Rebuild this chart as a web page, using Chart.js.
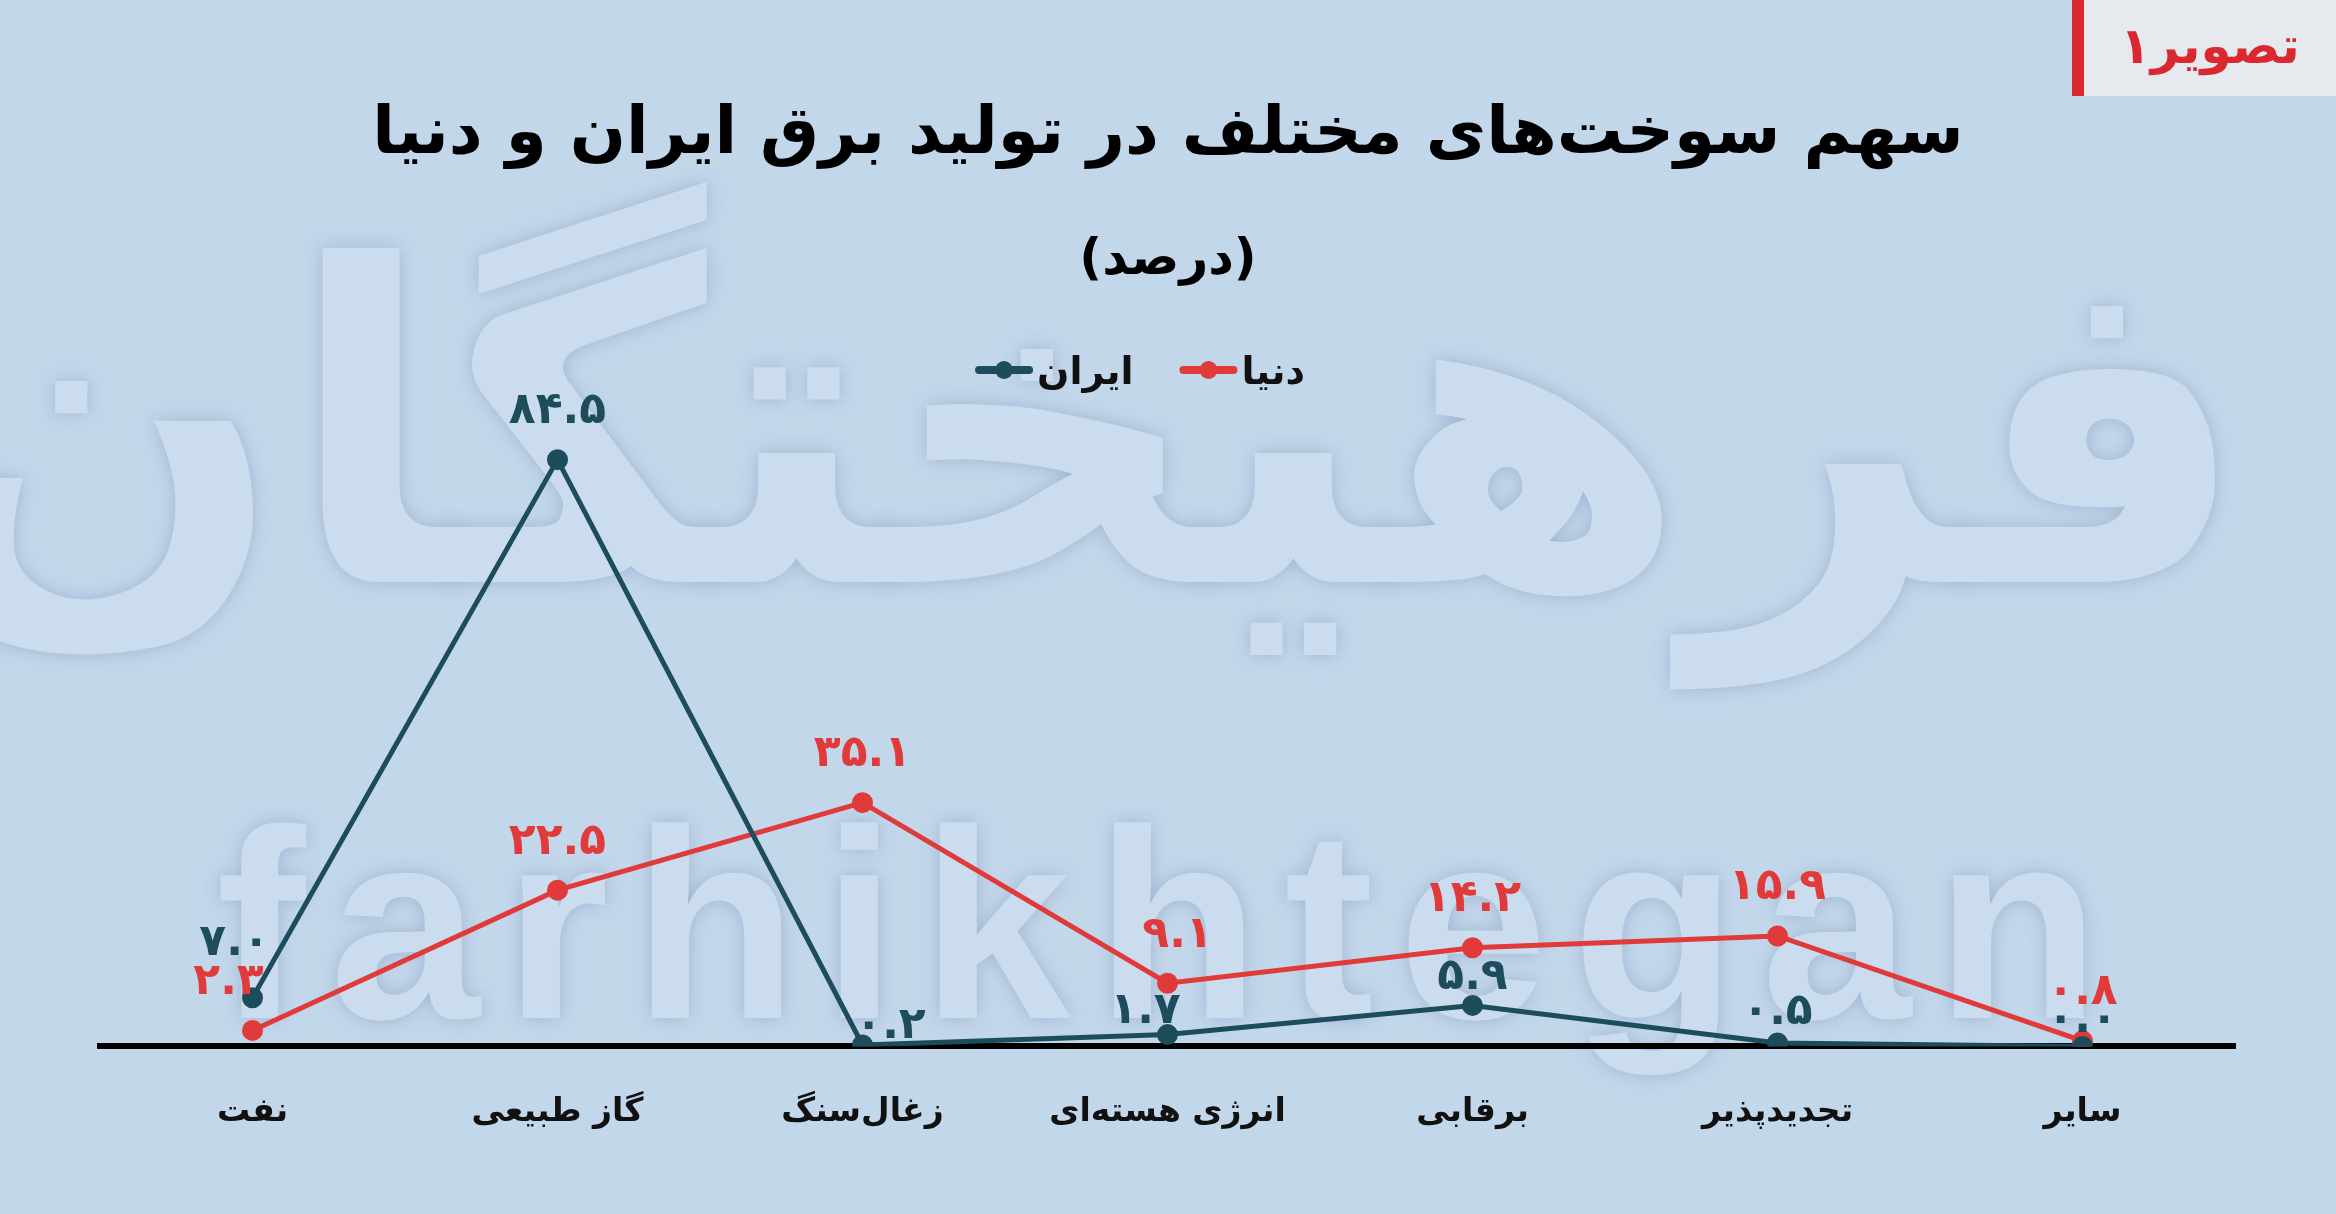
<!DOCTYPE html>
<html><head><meta charset="utf-8">
<script src="https://cdn.jsdelivr.net/npm/chart.js@4"></script>
<style>
body{margin:0;width:2336px;height:1214px;background:#c3d7eb;overflow:hidden;position:relative;font-family:"DejaVu Sans",sans-serif}
.wm{position:absolute;color:#cadcee;text-shadow:0 0 18px rgba(90,120,160,0.35);font-weight:bold;white-space:nowrap}
#t{position:absolute;left:0;width:2336px;top:92px;text-align:center;font-size:66px;font-weight:bold;direction:rtl}
#s{position:absolute;left:0;width:2336px;top:228px;text-align:center;font-size:50px;font-weight:bold;direction:rtl}
#tag{position:absolute;right:0;top:0;width:252px;height:96px;background:#e6e9ee;border-left:12px solid #d9282f;color:#d9282f;font-size:50px;font-weight:bold;text-align:center;line-height:92px;direction:rtl}
canvas{position:absolute;left:0;top:0}
</style></head><body>
<div class="wm" style="left:90px;width:2160px;text-align:center;top:130px;font-size:440px;line-height:600px;direction:rtl">فرهیختگان</div>
<div class="wm" style="left:70px;width:2200px;text-align:center;top:790px;font-size:270px;letter-spacing:24px;line-height:270px;font-family:'Liberation Sans'">farhikhtegan</div>
<div id="t">سهم سوخت‌های مختلف در تولید برق ایران و دنیا</div>
<div id="s">(درصد)</div>
<div id="tag">تصویر۱</div>
<canvas id="c" width="2336" height="1214"></canvas>
<script>
const categories=["نفت","گاز طبیعی","زغال‌سنگ","انرژی هسته‌ای","برقابی","تجدیدپذیر","سایر"];
const iranValues=[7.0,84.5,0.2,1.7,5.9,0.5,0.0];
const worldValues=[2.3,22.5,35.1,9.1,14.2,15.9,0.8];
const seriesNames=["دنیا","ایران"];
const colors=["#e03a3a","#1d4d5c"];
const fa=v=>v.toFixed(1).replace(/\d/g,d=>"۰۱۲۳۴۵۶۷۸۹"[d]);
const labelShift={1:[[-18,-6],[0,0],[28,30],[-22,25],[0,20],[0,18],[0,22]],0:[[-24,0],[0,0],[0,0],[10,0],[0,0],[0,0],[0,0]]};
const labels={id:"lbl",afterDatasetsDraw(ch){const c=ch.ctx;c.save();c.font="bold 44px 'DejaVu Sans'";c.textAlign="center";c.textBaseline="bottom";
ch.data.datasets.forEach((ds,i)=>{ch.getDatasetMeta(i).data.forEach((p,j)=>{const s=labelShift[i][j];c.fillStyle=ds.borderColor;c.fillText(fa(ds.data[j]),p.x+s[0],p.y-26+s[1]);});});c.restore();}};
const legendPl={id:"lg",afterDraw(ch){const c=ch.ctx;c.save();c.font="bold 38px 'DejaVu Sans'";c.textBaseline="middle";c.textAlign="right";
let x=1305,y=370;seriesNames.forEach((n,i)=>{c.fillStyle="#111";c.fillText(n,x,y+4);const w=c.measureText(n).width;x-=w+8;
c.strokeStyle=colors[i];c.lineWidth=8;c.lineCap="round";c.beginPath();c.moveTo(x-50,y);c.lineTo(x,y);c.stroke();c.fillStyle=colors[i];c.beginPath();c.arc(x-25,y,9,0,7);c.fill();x-=100;});c.restore();}};
new Chart(document.getElementById("c"),{type:"line",
data:{labels:categories,datasets:[
{label:seriesNames[0],data:worldValues,borderColor:colors[0],backgroundColor:colors[0],borderWidth:5,pointRadius:8,tension:0,order:1},
{label:seriesNames[1],data:iranValues,borderColor:colors[1],backgroundColor:colors[1],borderWidth:5,pointRadius:8,tension:0,order:0}]},
options:{responsive:false,animation:false,layout:{padding:{top:352,left:100,right:101,bottom:44}},
plugins:{legend:{display:false},tooltip:{enabled:false}},
scales:{y:{display:false,min:0,max:100},
x:{offset:true,grid:{display:false},border:{display:true,color:"#000",width:6},
ticks:{color:"#111",font:{family:"DejaVu Sans",size:33,weight:"bold"},padding:38}}}},
plugins:[labels,legendPl]});
</script></body></html>
